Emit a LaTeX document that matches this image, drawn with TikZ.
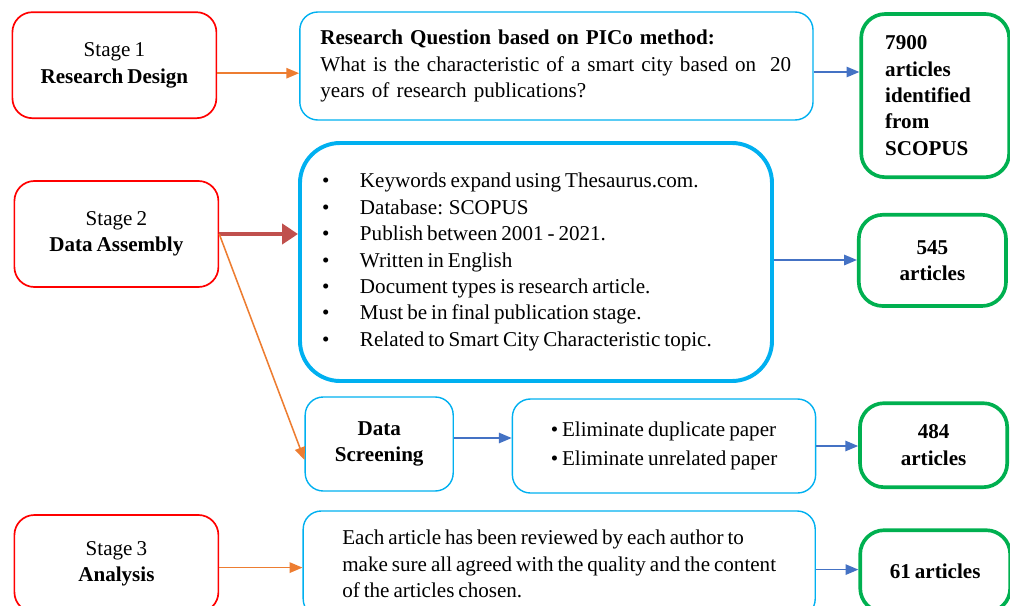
\documentclass[tikz,border=0pt]{standalone}
\usepackage{fontspec}
\setmainfont{Liberation Serif}[WordSpace=0.75]
\usetikzlibrary{positioning, arrows.meta, calc}
\usepackage{xcolor}

\definecolor{stagered}{HTML}{FF0000}
\definecolor{boxcyan}{HTML}{00B0F0}
\definecolor{boxgreen}{HTML}{00B050}
\definecolor{arrorange}{HTML}{ED7D31}
\definecolor{arrblue}{HTML}{4472C4}
\definecolor{arrdark}{HTML}{C0504D}

\newcommand{\kwitem}[1]{\makebox[0.95cm][l]{\textbullet}#1}

\begin{document}
\begin{tikzpicture}[
        font=\fontsize{15}{18.8}\selectfont,
        stagebox/.style={draw=stagered, line width=1.2pt, rounded corners=0.5cm,
                         minimum width=5.1cm, minimum height=2.65cm, align=center},
        bluebox/.style={draw=boxcyan, line width=1pt, rounded corners=0.45cm},
        bigbox/.style={draw=boxcyan, line width=2.8pt, rounded corners=1cm},
        greenbox/.style={draw=boxgreen, line width=2.6pt, rounded corners=0.6cm,
                         font=\fontsize{15}{18.8}\selectfont\bfseries},
        oarrow/.style={draw=arrorange, line width=1.1pt,
                       -{Triangle[length=0.32cm, width=0.26cm]}},
        barrow/.style={draw=arrblue, line width=1.1pt,
                       -{Triangle[length=0.32cm, width=0.26cm]}},
        darrow/.style={draw=arrdark, line width=3.2pt,
                       -{Triangle[length=0.4cm, width=0.5cm]}},
    ]
        \useasboundingbox (0,0) rectangle (25.25,-15.15);

        % stages
        \node[stagebox] (stage1) at (2.86,-1.63)  {Stage 1\\\textbf{Research Design}};
        \node[stagebox] (stage2) at (2.91,-5.85)  {Stage 2\\\textbf{Data Assembly}};
        \node[stagebox, minimum height=2.43cm] (stage3) at (2.91,-14.09) {Stage 3\\\textbf{Analysis}};

        % middle column
        \node[bluebox, minimum width=12.83cm, minimum height=2.7cm,
              text width=11.8cm, align=left] (rq) at (13.91,-1.65)
            {\textbf{Research Question based on PICo method:}\\
             What is the characteristic of a smart city based on \ 20\\
             years of research publications?};
        \node[bigbox, minimum width=11.8cm, minimum height=5.95cm,
              text width=10.7cm, align=left] (kw) at (13.4,-6.55)
            {\spaceskip=0pt\xspaceskip=0pt
             \kwitem{Keywords expand using Thesaurus.com.}\\
             \kwitem{Database: SCOPUS}\\
             \kwitem{Publish between 2001 - 2021.}\\
             \kwitem{Written in English}\\
             \kwitem{Document types is research article.}\\
             \kwitem{Must be in final publication stage.}\\
             \kwitem{Related to Smart City Characteristic topic.}};
        \node[bluebox, minimum width=3.7cm, minimum height=2.35cm,
              align=center, font=\fontsize{15}{18.8}\selectfont\bfseries] (screen) at (9.48,-11.1)
            {Data\\Screening};
        \node[bluebox, minimum width=7.58cm, minimum height=2.35cm,
              align=left] (elim) at (16.6,-11.15)
            {\textbullet\ Eliminate duplicate paper\\[2pt]
             \textbullet\ Eliminate unrelated paper};
        \node[bluebox, minimum width=12.8cm, minimum height=2.65cm,
              align=left] (review) at (13.98,-14.1)
            {Each article has been reviewed by each author to\\
             make sure all agreed with the quality and the content\\
             of the articles chosen.};

        % results
        \node[greenbox, minimum width=3.7cm, minimum height=4.08cm,
              text width=2.5cm, align=left] (g7900) at (23.38,-2.39)
            {7900\\articles\\identified\\from\\SCOPUS};
        \node[greenbox, minimum width=3.68cm, minimum height=2.28cm,
              align=center] (g545) at (23.31,-6.51) {545\\articles};
        \node[greenbox, minimum width=3.68cm, minimum height=2.1cm,
              align=center] (g484) at (23.34,-11.13) {484\\articles};
        \node[greenbox, minimum width=3.75cm, minimum height=2.05cm,
              align=center] (g61) at (23.38,-14.28) {61 articles};

        % connectors
        \draw[oarrow] ([yshift=-0.2cm]stage1.east) -- ([yshift=-0.2cm]stage1.east -| rq.west);
        \draw[barrow] ([yshift=-0.15cm]rq.east) -- ([yshift=-0.15cm]rq.east -| g7900.west);
        \draw[darrow] (stage2.east) -- (stage2.east -| kw.west);
        \draw[oarrow] (stage2.east) -- ([yshift=-0.4cm]screen.west);
        \draw[barrow] ([yshift=0.05cm]kw.east) -- ([yshift=0.05cm]kw.east -| g545.west);
        \draw[barrow] ([yshift=0.15cm]screen.east) -- ([yshift=0.15cm]screen.east -| elim.west);
        \draw[barrow] (elim.east) -- (elim.east -| g484.west);
        \draw[oarrow] ([yshift=-0.1cm]stage3.east) -- ([yshift=-0.1cm]stage3.east -| review.west);
        \draw[barrow] ([yshift=-0.14cm]review.east) -- ([yshift=-0.14cm]review.east -| g61.west);
    \end{tikzpicture}
\end{document}
